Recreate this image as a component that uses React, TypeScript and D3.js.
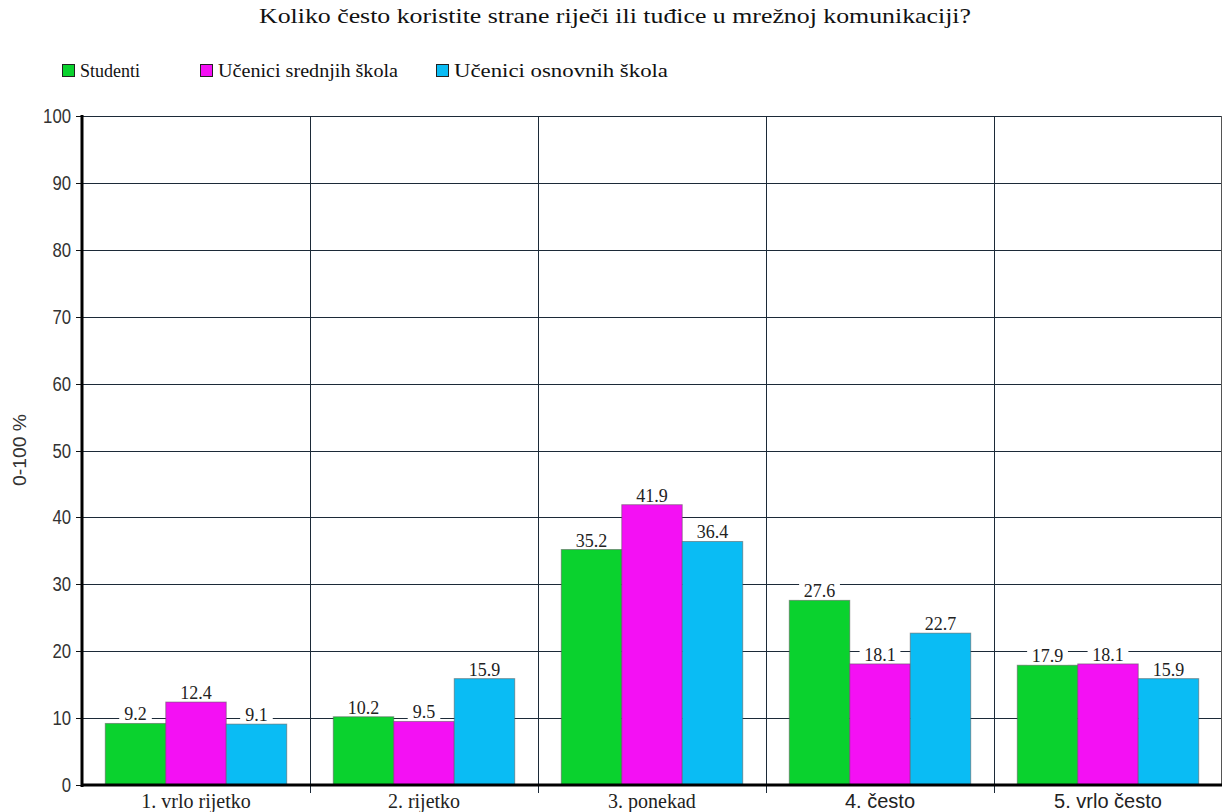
import React from "react";
import * as d3 from "d3";

const title = "Koliko često koristite strane riječi ili tuđice u mrežnoj komunikaciji?";
const categories = ["1. vrlo rijetko", "2. rijetko", "3. ponekad", "4. često", "5. vrlo često"];
const seriesNames = ["Studenti", "Učenici srednjih škola", "Učenici osnovnih škola"];
const studenti = [9.2, 10.2, 35.2, 27.6, 17.9];
const srednje = [12.4, 9.5, 41.9, 18.1, 18.1];
const osnovne = [9.1, 15.9, 36.4, 22.7, 15.9];
const yTicks = [0, 10, 20, 30, 40, 50, 60, 70, 80, 90, 100];
const yTitle = "0-100 %";

const colors = ["#0ad22e", "#f410f4", "#0abcf4"];
const W = 1226, H = 812;
const left = 82, right = 1222, top = 116, bottom = 785;

const serif = "'Liberation Serif', Tinos, 'Times New Roman', serif";
const narrow = "'Liberation Sans Narrow', 'Liberation Sans', Arimo, Arial, sans-serif";

export default function App() {
  const series = [studenti, srednje, osnovne];
  const x = d3.scaleBand<string>().domain(categories).range([left, right]).padding(0);
  const xi = d3.scaleBand<number>().domain([0, 1, 2]).range([0, x.bandwidth()]).paddingInner(0).paddingOuter(0.385);
  const y = d3.scaleLinear().domain([0, 100]).range([bottom, top]);
  const gridColor = "#1c2a38";
  const legendX = [62, 200, 436];
  const legendW = [60, 180, 214];

  return (
    <svg width={W} height={H} style={{ position: "absolute", left: 0, top: 0, background: "#fff" }}>
      <text x={615} y={23} textAnchor="middle" fontFamily={serif} fontSize={21} fill="#111" textLength={712} lengthAdjust="spacingAndGlyphs">{title}</text>
      {seriesNames.map((s, i) => (
        <g key={s}>
          <rect x={legendX[i] + 0.5} y={64.5} width={12} height={12} fill={colors[i]} stroke="#222" strokeWidth={1} />
          <text x={legendX[i] + 18} y={77} fontFamily={serif} fontSize={18} fill="#111" textLength={legendW[i]} lengthAdjust="spacingAndGlyphs">{s}</text>
        </g>
      ))}
      {yTicks.map(t => (
        <g key={t}>
          {t > 0 && <line x1={left} x2={right} y1={Math.round(y(t)) + 0.5} y2={Math.round(y(t)) + 0.5} stroke={gridColor} strokeWidth={1} />}
          <line x1={left - 6} x2={left} y1={Math.round(y(t)) + 0.5} y2={Math.round(y(t)) + 0.5} stroke="#111" strokeWidth={1} />
          <text x={71} y={y(t) + 7} textAnchor="end" fontFamily={narrow} fontSize={20} fill="#333" textLength={String(t).length * 9.3} lengthAdjust="spacingAndGlyphs">{t}</text>
        </g>
      ))}
      {categories.slice(1).map(c => (
        <line key={c} x1={Math.round(x(c)!) + 0.5} x2={Math.round(x(c)!) + 0.5} y1={top} y2={bottom + 8} stroke={gridColor} strokeWidth={1} />
      ))}
      <line x1={right - 0.5} x2={right - 0.5} y1={top} y2={bottom} stroke="#555" strokeWidth={1} />
      {categories.map((c, ci) => (
        <g key={c} transform={`translate(${x(c)},0)`}>
          {series.map((vals, si) => (
            <rect key={si} x={xi(si)} y={y(vals[ci])} width={xi.bandwidth()} height={bottom - y(vals[ci])}
              fill={colors[si]} stroke="#5a5a5a" strokeOpacity={0.55} strokeWidth={1} />
          ))}
        </g>
      ))}
      {categories.map((c, ci) => (
        <g key={c} transform={`translate(${x(c)},0)`}>
          {series.map((vals, si) => {
            const cx = xi(si)! + xi.bandwidth() / 2;
            const ty = y(vals[ci]);
            const label = vals[ci].toFixed(1);
            const tw = label.length * 8.2;
            return (
              <g key={si}>
                <rect x={cx - tw / 2 - 4} y={ty - 18} width={tw + 8} height={17} fill="#fff" />
                <text x={cx} y={ty - 3} textAnchor="middle" fontFamily={serif} fontSize={18} fill="#222">{label}</text>
              </g>
            );
          })}
        </g>
      ))}
      <line x1={left} x2={left} y1={top - 1} y2={bottom + 2} stroke="#000" strokeWidth={3} />
      <line x1={left - 1} x2={right} y1={bottom} y2={bottom} stroke="#000" strokeWidth={3} />
      {categories.map(c => {
        const nonAscii = /[^\x00-\x7F]/.test(c);
        return (
          <text key={c} x={x(c)! + x.bandwidth() / 2} y={808} textAnchor="middle"
            fontFamily={nonAscii ? narrow : serif} fontSize={20} fill="#222">{c}</text>
        );
      })}
      <text transform={`translate(26,450) rotate(-90)`} textAnchor="middle" fontFamily={narrow} fontSize={18} fill="#333" textLength={72} lengthAdjust="spacingAndGlyphs">{yTitle}</text>
    </svg>
  );
}
